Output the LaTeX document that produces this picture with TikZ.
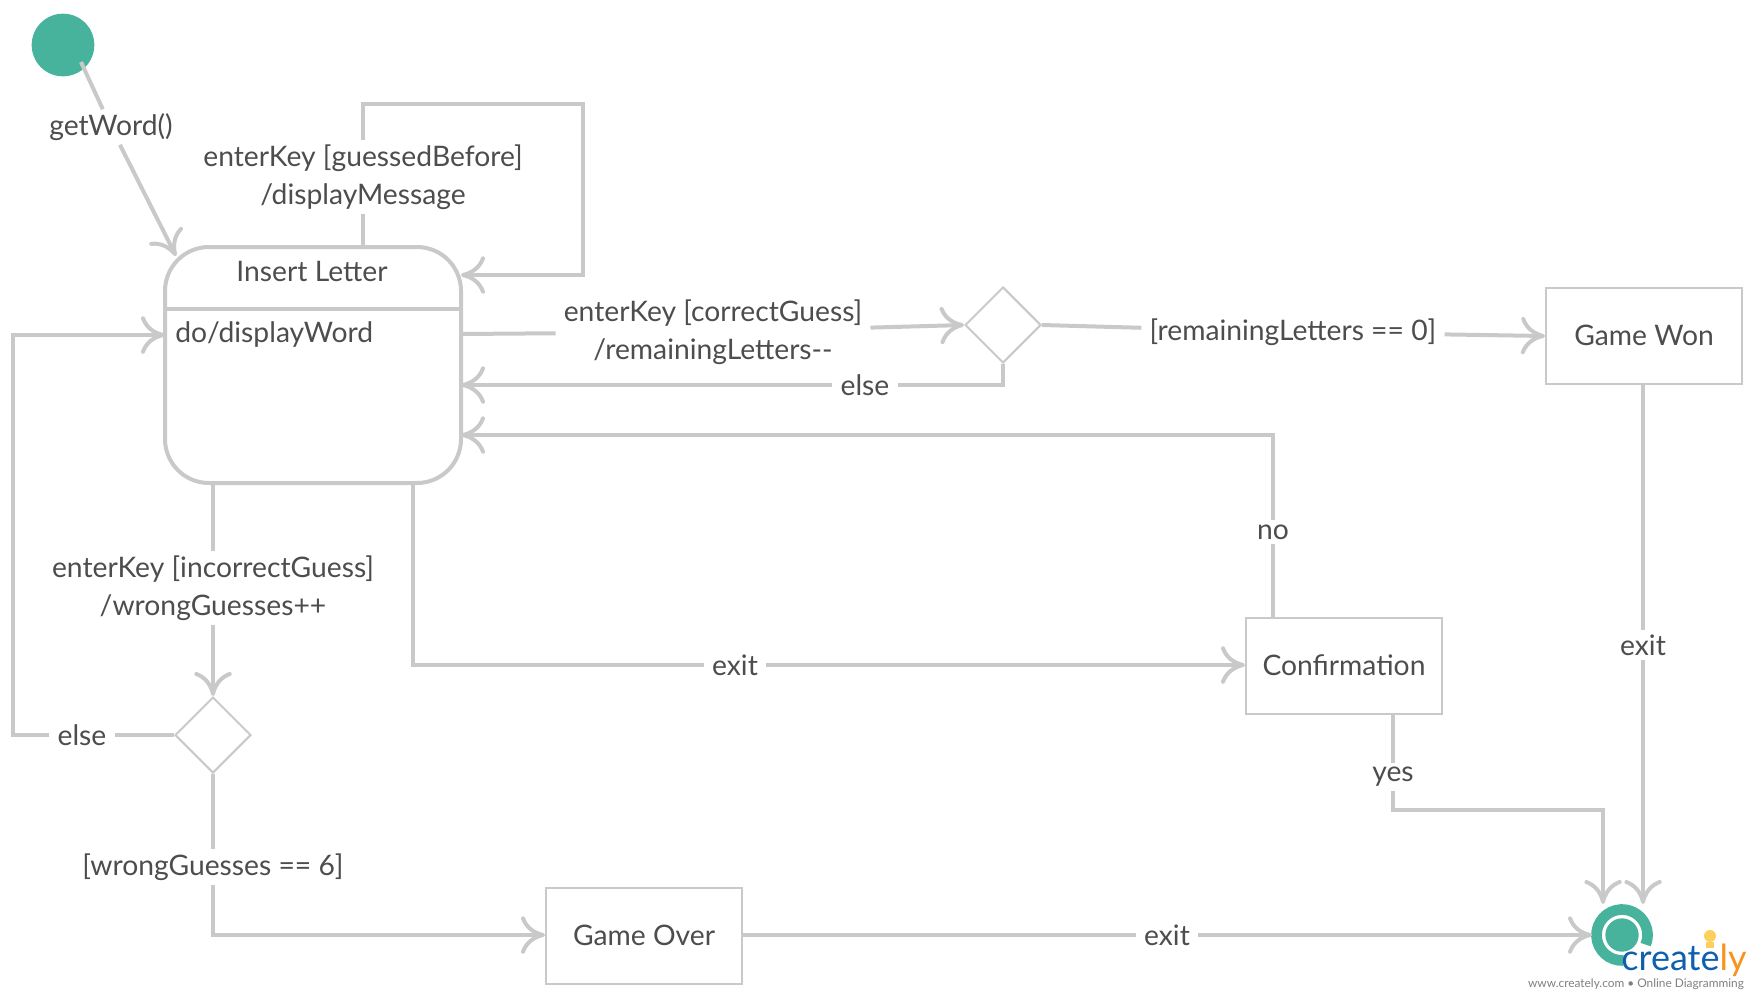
\documentclass[tikz,border=0pt]{standalone}
\usepackage{fontspec}
\setmainfont{Lato}
\usetikzlibrary{arrows.meta,shapes.geometric}
\definecolor{linegray}{HTML}{C9C9C9}
\definecolor{textgray}{HTML}{4D4D4D}
\definecolor{teal}{HTML}{47B39C}
\definecolor{logoblue}{HTML}{0F5FAF}
\definecolor{logoorange}{HTML}{F7931E}
\definecolor{logoyellow}{HTML}{FBD15B}
\begin{document}
\begin{tikzpicture}[
	x=0.75pt, y=-0.75pt,
	% Define the styles for the nodes
	every node/.style={text=textgray, font=\fontsize{21.2}{28.5}\selectfont},
	lbl/.style={fill=white, align=center, inner xsep=6pt, inner ysep=3pt},
	plain/.style={inner sep=0pt},
	statebox/.style={rectangle, draw=linegray, line width=1.5pt, minimum width=147pt, minimum height=72pt, inner sep=0pt, text height=15.5pt, text depth=1.5pt},
	choice/.style={diamond, draw=linegray, line width=1.5pt, minimum width=57pt, minimum height=57pt, inner sep=0pt},
	flow/.style={draw=linegray, line width=3pt},
	arrow/.style={flow, -{Computer Modern Rightarrow[length=18pt, width=28pt, line width=3pt]}}
	]
	\useasboundingbox (0,0) rectangle (1758,1000);
	
	% --- STATES ---
	\node (start) at (63,45) [circle, fill=teal, minimum size=47pt, inner sep=0pt] {};
	\node (insert) at (313,365) [rectangle, draw=linegray, line width=3pt, rounded corners=33pt, minimum width=222pt, minimum height=177pt] {};
	\node (insertName) at (312,271) [plain] {Insert Letter};
	\node (insertDo) at (175,335) [plain, anchor=west] {do/displayWord};
	\node (checkRight) at (1003,325) [choice] {};
	\node (checkWrong) at (213,735) [choice] {};
	\node (won) at (1644,336) [statebox] {Game Won};
	\node (confirm) at (1344,666) [statebox] {Confirmation};
	\node (over) at (644,936) [statebox] {Game Over};
	
	% --- FINAL STATE ---
	\node (final) at (1622,935) [circle, minimum size=47pt, inner sep=0pt] {};
	\node (finalDot) at (1622,935) [circle, fill=teal, minimum size=25pt, inner sep=0pt] {};
	\draw[teal, line width=8pt] (1622,935) ++(87:25.5) arc[start angle=87, end angle=382, radius=25.5];
	
	% --- LOGO ---
	\node (bulb) at (1710,936) [circle, fill=logoyellow, minimum size=9pt, inner sep=0pt] {};
	\node (bulbBase) at (1710,945) [rectangle, fill=logoyellow, minimum width=6pt, minimum height=5pt, inner sep=0pt] {};
	\node (logo) at (1684,960) [plain, font=\fontsize{27}{27}\selectfont] {\textcolor{logoblue}{creat}\textcolor{logoblue}{e}\textcolor{logoorange}{ly}};
	\node (logoWeb) at (1636,984) [plain, text=gray, font=\fontsize{8.9}{10}\selectfont] {www.creately.com • Online Diagramming};
	
	% --- LABELS ---
	\node (getWord) at (111,127) [lbl] {getWord()};
	\node (guessedLbl) at (363,177) [lbl] {enterKey [guessedBefore]\\/displayMessage};
	\node (correctLbl) at (713,332) [lbl] {enterKey [correctGuess]\\/remainingLetters{-}{-}};
	\node (elseRight) at (865,385) [lbl] {else};
	\node (zeroLbl) at (1293,332) [lbl] {[remainingLetters == 0]};
	\node (noLbl) at (1273,532) [lbl] {no};
	\node (exitConfirm) at (735,665) [lbl] {exit};
	\node (wrongLbl) at (213,588) [lbl] {enterKey [incorrectGuess]\\/wrongGuesses++};
	\node (elseWrong) at (82,735) [lbl] {else};
	\node (sixLbl) at (213,867) [lbl] {[wrongGuesses == 6]};
	\node (exitOver) at (1167,935) [lbl] {exit};
	\node (exitWon) at (1643,645) [lbl] {exit};
	\node (yesLbl) at (1393,777) [lbl] {yes};
	
	% --- BEND POINTS ---
	\coordinate (startIn) at (81,62);
	\coordinate (getWordIn) at (176,256);
	\coordinate (loopA) at (363,104);
	\coordinate (loopB) at (583,104);
	\coordinate (loopC) at (583,275);
	\coordinate (loopD) at (461,275);
	\coordinate (insertOut) at (461,334);
	\coordinate (elseIn) at (461,385);
	\coordinate (noIn) at (461,435);
	\coordinate (backA) at (13,735);
	\coordinate (backB) at (13,335);
	\coordinate (backC) at (165,335);
	\coordinate (yesA) at (1393,810);
	\coordinate (yesB) at (1603,810);
	\coordinate (yesC) at (1603,904);
	\coordinate (wonIn) at (1643,904);
	\coordinate (overIn) at (1592,935);
	\coordinate (divL) at (165,309);
	\coordinate (divR) at (461,309);
	
	% --- EDGES ---
	\draw[flow] (divL) -- (divR);
	\draw[flow] (startIn) -- (getWord);
	\draw[arrow] (getWord) -- (getWordIn);
	\draw[flow] (guessedLbl) -- (guessedLbl |- insert.north);
	\draw[arrow] (guessedLbl) -- (loopA) -- (loopB) -- (loopC) -- (loopD);
	\draw[flow] (insertOut) -- (correctLbl);
	\draw[arrow] (correctLbl) -- (checkRight.west);
	\draw[flow] (checkRight.south) |- (elseRight);
	\draw[arrow] (elseRight) -- (elseIn);
	\draw[flow] (checkRight.east) -- (zeroLbl);
	\draw[arrow] (zeroLbl) -- (won.west);
	\draw[flow] (won.south -| exitWon) -- (exitWon);
	\draw[arrow] (exitWon) -- (wonIn);
	\draw[flow] (confirm.north -| noLbl) -- (noLbl);
	\draw[arrow] (noLbl) |- (noIn);
	\draw[flow] (insert.south -| 413,0) |- (exitConfirm);
	\draw[arrow] (exitConfirm) -- (exitConfirm -| confirm.west);
	\draw[flow] (insert.south -| wrongLbl) -- (wrongLbl);
	\draw[arrow] (wrongLbl) -- (checkWrong.north);
	\draw[flow] (checkWrong.west) -- (elseWrong);
	\draw[arrow] (elseWrong) -- (backA) -- (backB) -- (backC);
	\draw[flow] (checkWrong.south) -- (sixLbl);
	\draw[arrow] (sixLbl) |- (over.west |- exitOver);
	\draw[flow] (over.east |- exitOver) -- (exitOver);
	\draw[arrow] (exitOver) -- (overIn);
	\draw[flow] (confirm.south -| yesLbl) -- (yesLbl);
	\draw[arrow] (yesLbl) -- (yesA) -- (yesB) -- (yesC);
	
\end{tikzpicture}
\end{document}
